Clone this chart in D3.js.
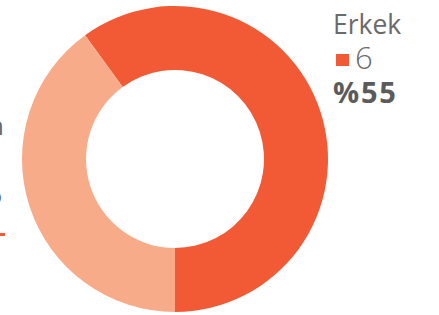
<!DOCTYPE html>
<html>
<head>
<meta charset="utf-8">
<script src="https://cdn.jsdelivr.net/npm/d3@7"></script>
<style>
  html, body { margin: 0; padding: 0; background: #fff; }
  svg { display: block; font-family: 'Open Sans', sans-serif; }
</style>
</head>
<body>
<svg id="chart" width="439" height="315"></svg>
<script>
// data
const categories = ['Erkek', 'Kadın'];
const counts = [6, 4];
const countLabels = ['6', '5'];
const percentLabels = ['%55', '%45'];
const colors = ['#f15a35', '#f8ab88'];

const width = 439, height = 315;
const cx = 175, cy = 159;
const outerR = 153, innerR = 89;

const svg = d3.select('#chart');

const total = d3.sum(counts);
// first slice ends at 6 o'clock
const start = Math.PI - 2 * Math.PI * counts[0] / total;

const pie = d3.pie()
	.sort(null)
	.value((d) => d)
	.startAngle(start)
	.endAngle(start + 2 * Math.PI);

const arc = d3.arc().innerRadius(innerR).outerRadius(outerR);

const donut = svg.append('g').attr('transform', `translate(${cx},${cy})`);

donut.selectAll('path')
	.data(pie(counts))
	.join('path')
	.attr('d', arc)
	.attr('fill', (d, i) => colors[i]);

// right legend (Erkek)
const right = svg.append('g').attr('transform', 'translate(333,0)');
right.append('text')
	.attr('x', 0).attr('y', 34)
	.attr('font-size', 26.5)
	.attr('fill', '#6a6a6a')
	.text(categories[0]);
right.append('rect')
	.attr('x', 3).attr('y', 54)
	.attr('width', 13).attr('height', 12)
	.attr('fill', colors[0]);
right.append('text')
	.attr('x', 22).attr('y', 69)
	.attr('font-size', 31)
	.attr('font-weight', 300)
	.attr('fill', '#6a6a6a')
	.text(countLabels[0]);
right.append('text')
	.attr('x', 0).attr('y', 103)
	.attr('font-size', 29)
	.attr('font-weight', 700)
	.attr('letter-spacing', 1.8)
	.attr('fill', '#5b5b5b')
	.text(percentLabels[0]);

// left legend (Kadın), mostly off the page
const left = svg.append('g');
left.append('text')
	.attr('x', 4).attr('y', 135)
	.attr('text-anchor', 'end')
	.attr('font-size', 26)
	.attr('fill', '#6a6a6a')
	.text(categories[1]);
left.append('text')
	.attr('x', 2).attr('y', 205)
	.attr('text-anchor', 'end')
	.attr('font-size', 29)
	.attr('font-weight', 700)
	.attr('fill', '#5b5b5b')
	.text(percentLabels[1]);
left.append('rect')
	.attr('x', 0).attr('y', 233)
	.attr('width', 5).attr('height', 3)
	.attr('fill', colors[0]);
</script>
</body>
</html>
